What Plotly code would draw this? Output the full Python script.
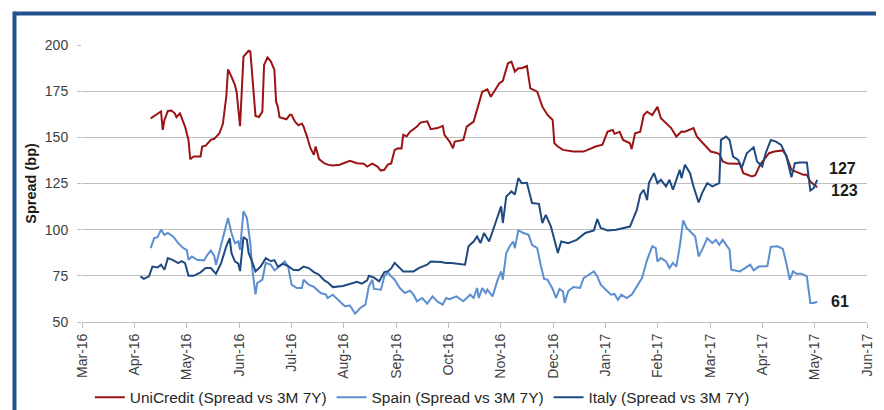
import plotly.graph_objects as go
import pandas as pd

# ---------------- data ----------------
uc_dates = ["2016-04-10","2016-04-15","2016-04-16","2016-04-17","2016-04-18","2016-04-20","2016-04-22","2016-04-24","2016-04-25","2016-04-27",
"2016-04-28","2016-04-30","2016-05-02","2016-05-03","2016-05-05","2016-05-09","2016-05-10","2016-05-12","2016-05-15","2016-05-17",
"2016-05-20","2016-05-22","2016-05-24","2016-05-25","2016-05-27","2016-05-29","2016-05-30","2016-05-31","2016-06-01","2016-06-03",
"2016-06-06","2016-06-07","2016-06-09","2016-06-10","2016-06-12","2016-06-14","2016-06-15","2016-06-17","2016-06-19","2016-06-21",
"2016-06-22","2016-06-23","2016-06-24","2016-06-28","2016-06-30","2016-07-01","2016-07-03","2016-07-05","2016-07-07","2016-07-08",
"2016-07-10","2016-07-12","2016-07-14","2016-07-15","2016-07-17","2016-07-20","2016-07-22","2016-07-25","2016-07-29","2016-08-01",
"2016-08-04","2016-08-08","2016-08-12","2016-08-14","2016-08-17","2016-08-20","2016-08-22","2016-08-24","2016-08-26","2016-08-28",
"2016-08-30","2016-09-01","2016-09-03","2016-09-04","2016-09-06","2016-09-08","2016-09-12","2016-09-14","2016-09-18","2016-09-20",
"2016-09-24","2016-09-27","2016-09-28","2016-10-01","2016-10-03","2016-10-04","2016-10-09","2016-10-11","2016-10-15","2016-10-20",
"2016-10-23","2016-10-25","2016-10-27","2016-10-30","2016-11-01","2016-11-04","2016-11-06","2016-11-08","2016-11-10","2016-11-12",
"2016-11-15","2016-11-17","2016-11-21","2016-11-24","2016-11-27","2016-11-30","2016-12-01","2016-12-03","2016-12-06","2016-12-12",
"2016-12-18","2016-12-22","2016-12-25","2016-12-29","2017-01-01","2017-01-04","2017-01-05","2017-01-08","2017-01-10","2017-01-14",
"2017-01-15","2017-01-17","2017-01-20","2017-01-22","2017-01-24","2017-01-27","2017-01-30","2017-02-01","2017-02-04","2017-02-07",
"2017-02-10","2017-02-13","2017-02-15","2017-02-20","2017-02-22","2017-02-27","2017-03-02","2017-03-05","2017-03-07","2017-03-09",
"2017-03-12","2017-03-17","2017-03-19","2017-03-21","2017-03-26","2017-03-28","2017-03-31","2017-04-05","2017-04-08","2017-04-13",
"2017-04-15","2017-04-18","2017-04-21","2017-04-25","2017-04-27","2017-04-29","2017-05-03"]
uc_vals = [160.3,163.4,164,154,159.4,164.3,164.5,163,160.9,163,
160.3,155.8,148.6,138.2,139.6,139.6,145,145.5,148.6,149.2,
152.2,157.2,172,186.8,182.9,178.4,174.7,163,156,193.7,
196.9,196.5,173,161.6,161,163.9,189.2,193.3,191,186.5,
169.3,166.5,160.9,159.8,162.2,162.2,158.5,156.5,157.5,155.8,
150.4,144.1,140.5,145,138.2,136,135.2,134.7,135.2,136.4,
137.3,136,135.7,134.2,135.7,134.2,132,132.4,135.2,135.8,
143.2,144.1,144,151.3,150.6,153.1,155.8,158,158.7,154.4,
155,156.2,151.3,147.7,144.1,147.7,148.6,155.8,158.5,174.7,
176,172,174.7,179.3,180.6,190.1,191,185.6,187.4,187.4,
188.6,176.5,174.7,166.6,162.1,159.4,146.8,145,143.2,142.3,
142.3,144,145,146,153.1,154,151.9,153,148.6,146.8,
143.6,152.2,153.1,162.1,163.9,162.1,166.6,160.3,157.6,155,
150.4,153.1,153,155,150.4,145,142.3,141.7,141,136.9,
135.8,135.7,135.8,130.6,128.8,129.5,135.6,141.4,142.3,142.9,
140,132.4,131.2,129.7,129.7,126,123]

es_dates = ["2016-04-10","2016-04-12","2016-04-14","2016-04-16","2016-04-18","2016-04-20","2016-04-23","2016-04-26","2016-04-29","2016-05-01",
"2016-05-02","2016-05-04","2016-05-07","2016-05-11","2016-05-13","2016-05-15","2016-05-17","2016-05-18","2016-05-21","2016-05-24",
"2016-05-25","2016-05-27","2016-05-29","2016-05-31","2016-06-01","2016-06-03","2016-06-05","2016-06-07","2016-06-08","2016-06-10",
"2016-06-11","2016-06-14","2016-06-16","2016-06-19","2016-06-21","2016-06-24","2016-06-27","2016-06-29","2016-07-01","2016-07-04",
"2016-07-07","2016-07-08","2016-07-11","2016-07-14","2016-07-18","2016-07-21","2016-07-22","2016-07-25","2016-07-27","2016-07-30",
"2016-08-01","2016-08-04","2016-08-07","2016-08-10","2016-08-13","2016-08-15","2016-08-17","2016-08-18","2016-08-22","2016-08-24",
"2016-08-26","2016-08-28","2016-08-30","2016-09-02","2016-09-05","2016-09-08","2016-09-10","2016-09-12","2016-09-15","2016-09-18",
"2016-09-21","2016-09-24","2016-09-27","2016-09-29","2016-10-01","2016-10-05","2016-10-09","2016-10-13","2016-10-15","2016-10-17",
"2016-10-18","2016-10-20","2016-10-22","2016-10-23","2016-10-26","2016-10-29","2016-10-31","2016-11-01","2016-11-03","2016-11-05",
"2016-11-07","2016-11-08","2016-11-10","2016-11-13","2016-11-16","2016-11-18","2016-11-21","2016-11-23","2016-11-25","2016-11-27",
"2016-11-30","2016-12-02","2016-12-04","2016-12-06","2016-12-07","2016-12-09","2016-12-12","2016-12-16","2016-12-18","2016-12-21",
"2016-12-24","2016-12-26","2016-12-28","2016-12-31","2017-01-03","2017-01-05","2017-01-07","2017-01-09","2017-01-12","2017-01-15",
"2017-01-18","2017-01-21","2017-01-24","2017-01-27","2017-01-29","2017-01-30","2017-02-01","2017-02-04","2017-02-06","2017-02-08",
"2017-02-10","2017-02-12","2017-02-14","2017-02-16","2017-02-19","2017-02-21","2017-02-23","2017-02-25","2017-02-28","2017-03-03",
"2017-03-05","2017-03-07","2017-03-09","2017-03-13","2017-03-14","2017-03-16","2017-03-19","2017-03-22","2017-03-25","2017-03-27",
"2017-03-30","2017-04-04","2017-04-06","2017-04-10","2017-04-13","2017-04-15","2017-04-17","2017-04-19","2017-04-21","2017-04-24",
"2017-04-27","2017-04-29","2017-05-01","2017-05-03"]
es_vals = [90,95.4,95.9,100,97.2,98.2,96.3,92.7,90,89.1,
83.7,85.5,83.7,83.3,86.4,88.7,85.8,81,91.8,101.7,
106.3,98.2,92.7,93.6,89.1,110,106.3,92.7,80,65,
71.1,72.9,82,81,78,80,82.8,80,70.2,68.4,
68.4,72.9,70.2,69,65.7,64.8,63,64.8,63,60.3,
58.5,58.9,54.5,57.6,59.4,69.3,72.9,67.9,67.5,74.7,
76.9,74.7,72.9,68.4,65.7,67,64.8,61.2,63,59.9,
63.9,61,59.4,63,62.4,63.9,61.2,64.8,63,68.4,
63,68.4,65.7,67.5,63.9,72.9,77.4,72.9,87.4,91,
93.6,90,99.6,98.2,97.2,91.8,90,81,73.3,72.9,
67.9,63,67.9,66.6,60.3,66.6,68.9,68.4,73.8,75.6,
77.4,74.7,70.2,67.5,64.8,65.2,62,64.8,63,64.8,
69.3,73.8,83.7,91,90,82.8,84.6,82.8,79.2,82,
80,91,105,100.9,98.2,96.3,85.5,89.1,95.4,92.7,
94.5,91.8,94.5,89.1,78.3,78,77.4,79.2,81,78,
80,80.3,90.7,91,89.6,82,72.9,77.4,76.1,76.1,
74.7,60.3,60.3,61]

it_dates = ["2016-04-04","2016-04-06","2016-04-09","2016-04-11","2016-04-14","2016-04-16","2016-04-18","2016-04-20","2016-04-23","2016-04-26",
"2016-04-28","2016-04-30","2016-05-02","2016-05-05","2016-05-09","2016-05-12","2016-05-15","2016-05-18","2016-05-21","2016-05-24",
"2016-05-26","2016-05-27","2016-05-29","2016-05-31","2016-06-01","2016-06-03","2016-06-05","2016-06-06","2016-06-08","2016-06-10",
"2016-06-13","2016-06-16","2016-06-19","2016-06-21","2016-06-23","2016-06-26","2016-06-29","2016-07-02","2016-07-05","2016-07-08",
"2016-07-11","2016-07-14","2016-07-17","2016-07-20","2016-07-22","2016-07-25","2016-07-31","2016-08-04","2016-08-08","2016-08-11",
"2016-08-14","2016-08-15","2016-08-18","2016-08-21","2016-08-24","2016-08-26","2016-08-28","2016-08-30","2016-09-02","2016-09-04",
"2016-09-10","2016-09-13","2016-09-18","2016-09-20","2016-09-26","2016-09-29","2016-10-02","2016-10-05","2016-10-10","2016-10-12",
"2016-10-15","2016-10-17","2016-10-19","2016-10-21","2016-10-24","2016-10-28","2016-10-31","2016-11-01","2016-11-03","2016-11-06",
"2016-11-08","2016-11-10","2016-11-12","2016-11-15","2016-11-18","2016-11-22","2016-11-24","2016-11-26","2016-11-29","2016-12-02",
"2016-12-03","2016-12-05","2016-12-09","2016-12-14","2016-12-19","2016-12-24","2016-12-26","2016-12-28","2017-01-01","2017-01-06",
"2017-01-10","2017-01-14","2017-01-18","2017-01-20","2017-01-22","2017-01-24","2017-01-25","2017-01-28","2017-01-30","2017-02-01",
"2017-02-04","2017-02-06","2017-02-08","2017-02-10","2017-02-12","2017-02-13","2017-02-15","2017-02-18","2017-02-20","2017-02-23",
"2017-02-25","2017-02-28","2017-03-03","2017-03-07","2017-03-08","2017-03-11","2017-03-13","2017-03-15","2017-03-18","2017-03-20",
"2017-03-23","2017-03-27","2017-03-29","2017-04-01","2017-04-03","2017-04-06","2017-04-09","2017-04-12","2017-04-15","2017-04-18",
"2017-04-20","2017-04-23","2017-04-27","2017-04-29","2017-05-01","2017-05-03"]
it_vals = [74.7,73.4,74.7,80,79.5,81,78.3,84.6,83.5,81.9,
83,81.9,75,75,76.9,79.2,79.2,76.1,81.9,91,
95.4,87.4,82.8,81.6,77.6,96,94.5,87.4,82.8,77.4,
80,84.6,82.9,83.5,80,81.5,80.3,78.3,78,80,
79.2,77,75.6,72.6,71.5,68.9,69.5,70.5,71.8,70.8,
72.5,75,74,72,77,77.4,79,82,79.2,77.4,
77.4,79.2,81,82.8,82.5,82,82,81.5,81,91,
93.6,96.3,92.7,98.2,93.6,104.4,112.6,103.6,118,120.7,
119,127.9,125.2,125.4,114.4,114,103.6,108,101.7,91,
87.4,93.6,92.7,94.5,98.2,99.6,105.7,100.9,99.6,100,
100.9,101.7,110.7,118.9,121.6,116,125.2,130.6,125.2,127,
123.4,127,121.6,127,132.4,127.9,135.1,130.6,123.4,114.7,
119.8,125.2,123.4,125.2,148.6,150.4,148.6,139.6,137.8,133.3,
141.4,144.6,136.9,134.2,141.4,148.6,147.7,145.9,140,128.4,
136,136.4,136.4,121.2,122.5,127]

series_names = ["UniCredit (Spread vs 3M 7Y)", "Spain (Spread vs 3M 7Y)", "Italy (Spread vs 3M 7Y)"]
series_colors = ["#9B1414", "#5B8FCF", "#1F4A80"]

month_labels = ["Mar-16","Apr-16","May-16","Jun-16","Jul-16","Aug-16","Sep-16","Oct-16",
                "Nov-16","Dec-16","Jan-17","Feb-17","Mar-17","Apr-17","May-17","Jun-17"]
y_ticks = [50, 75, 100, 125, 150, 175, 200]

# ---------------- figure ----------------
axis_start = pd.Timestamp("2016-03-01")
axis_end = pd.Timestamp("2017-06-01")
step = (axis_end - axis_start) / (len(month_labels) - 1)
tick_positions = [axis_start + k * step for k in range(len(month_labels))]

fig = go.Figure()
for d, v, n, c in [(uc_dates, uc_vals, series_names[0], series_colors[0]),
                   (es_dates, es_vals, series_names[1], series_colors[1]),
                   (it_dates, it_vals, series_names[2], series_colors[2])]:
    fig.add_trace(go.Scatter(x=pd.to_datetime(d), y=v, name=n, mode="lines",
                             line=dict(color=c, width=2)))

# end-value labels
end_labels = [
    (it_dates[-1], it_vals[-1], 10, 11),
    (uc_dates[-1], uc_vals[-1], 12, -3),
    (es_dates[-1], es_vals[-1], 12, 0),
]
for d, v, xs, ys in end_labels:
    fig.add_annotation(x=pd.Timestamp(d), y=v, text="<b>%d</b>" % round(v),
                       xanchor="left", yanchor="middle", showarrow=False,
                       xshift=xs, yshift=ys,
                       font=dict(family="Liberation Sans, Arial", size=16, color="#1a1a1a"))

fig.add_annotation(xref="paper", yref="paper", x=-0.066, y=0.5, text="<b>Spread (bp)</b>",
                   textangle=-90, showarrow=False, xanchor="center", yanchor="middle",
                   font=dict(family="Liberation Sans, Arial", size=14.5, color="#1a1a1a"))

frame_color = "#24508F"
fig.add_shape(type="line", xref="paper", yref="paper", x0=-0.088, x1=1.05, y0=1.1136, y1=1.1136,
              line=dict(color=frame_color, width=4))
fig.add_shape(type="line", xref="paper", yref="paper", x0=-0.086, x1=-0.086, y0=1.12, y1=-0.45,
              line=dict(color=frame_color, width=4))

fig.update_layout(
    width=884, height=440,
    margin=dict(l=74, r=25, t=37, b=126),
    paper_bgcolor="white", plot_bgcolor="white",
    font=dict(family="Liberation Sans, Arial", size=14, color="#404040"),
    showlegend=True,
    legend=dict(orientation="h", x=0.010, xanchor="left", y=-0.273, yanchor="middle",
                font=dict(size=15.4, color="#262626"), itemwidth=30, tracegroupgap=0,
                bgcolor="rgba(0,0,0,0)"),
    xaxis=dict(type="date", range=[axis_start, axis_end], tickvals=tick_positions,
               ticktext=month_labels, tickangle=-90, showgrid=False, zeroline=False,
               showline=True, linecolor="#BFBFBF", linewidth=1,
               ticks="outside", ticklen=5, tickcolor="#BFBFBF",
               tickfont=dict(size=14, color="#404040")),
    yaxis=dict(range=[50, 200], tickvals=y_ticks, showgrid=True, gridcolor="#BFBFBF",
               gridwidth=1, zeroline=False, showline=False,
               ticks="outside", ticklen=4, tickcolor="#BFBFBF",
               ticklabelstandoff=6,
               tickfont=dict(size=14, color="#404040")),
)

fig.write_html("out.html")
